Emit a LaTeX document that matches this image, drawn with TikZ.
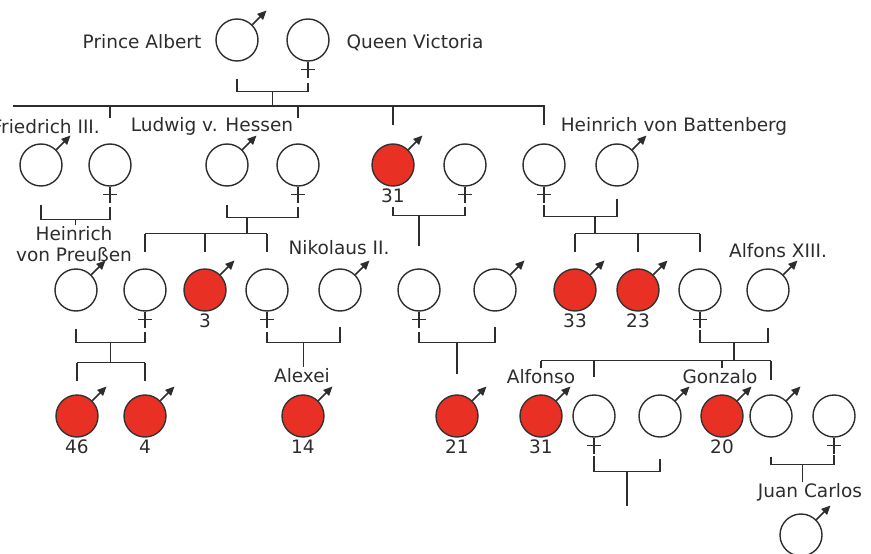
\documentclass[tikz,border=0pt]{standalone}
\usepackage{fontspec}
\setmainfont{DejaVu Sans}
\usetikzlibrary{calc,positioning,arrows.meta}
\definecolor{bloodred}{RGB}{232,48,36}
\definecolor{ink}{RGB}{45,45,45}
\begin{document}
\begin{tikzpicture}[x=1pt, y=-1pt]
        % Define styles
        \tikzstyle{person}=[circle, draw=ink, line width=1.4pt, minimum size=42pt, inner sep=0pt]
        \tikzstyle{bleeder}=[person, draw=black!80, fill=bloodred]
        \tikzstyle{royal}=[font=\fontsize{18.5}{21}\selectfont, text=ink, inner sep=1pt, anchor=base]
        \tikzstyle{years}=[font=\fontsize{18.5}{21}\selectfont, text=ink, inner sep=0pt]
        \tikzstyle{link}=[draw=ink, line width=1.5pt]
        \tikzstyle{spear}=[link, -{Triangle[length=9pt, width=8pt]}]

        \useasboundingbox (0,0) rectangle (871,554);

        % Prince Albert and Queen Victoria
        \node[person] (albert) at (237,40) {};
        \node[person] (victoria) at (308,40) {};
        \node[royal] (lblAlbert) at (142,48) {Prince Albert};
        \node[royal] (lblVictoria) at (415,48) {Queen Victoria};

        % Children and their partners
        \node[person] (friedrich) at (41,165) {};
        \node[person] (vicky) at (110,165) {};
        \node[person] (ludwig) at (227,165) {};
        \node[person] (alice) at (298,165) {};
        \node[bleeder] (leopold) at (393,165) {};
        \node[person] (helena) at (465,165) {};
        \node[person] (beatrice) at (544,165) {};
        \node[person] (heinrichB) at (617,165) {};
        \node[royal, anchor=base east] (lblFriedrich) at (101,133) {Friedrich III.};
        \node[royal] (lblLudwig) at (212,131) {Ludwig v. Hessen};
        \node[royal] (lblBattenberg) at (674,131) {Heinrich von Battenberg};
        \node[years, below=2pt of leopold] (ageLeopold) {31};

        % Grandchildren and their partners
        \node[person] (heinrichP) at (76,290) {};
        \node[person] (irene) at (145,290) {};
        \node[bleeder] (fritz) at (205,290) {};
        \node[person] (alix) at (267,290) {};
        \node[person] (nikolaus) at (340,290) {};
        \node[person] (aliceA) at (419,290) {};
        \node[person] (alexander) at (495,290) {};
        \node[bleeder] (leopoldB) at (575,290) {};
        \node[bleeder] (maurice) at (638,290) {};
        \node[person] (ena) at (700,290) {};
        \node[person] (alfons) at (768,290) {};
        \node[royal, anchor=center, align=center] (lblHeinrichP) at (74,244) {Heinrich\\von Preußen};
        \node[royal] (lblNikolaus) at (339,254) {Nikolaus II.};
        \node[royal] (lblAlfons) at (778,257) {Alfons XIII.};
        \node[years, below=2pt of fritz] (ageFritz) {3};
        \node[years, below=2pt of leopoldB] (ageLeopoldB) {33};
        \node[years, below=2pt of maurice] (ageMaurice) {23};

        % Great-grandchildren
        \node[bleeder] (waldemar) at (77,416) {};
        \node[bleeder] (heinrichJ) at (145,416) {};
        \node[bleeder] (alexei) at (303,416) {};
        \node[bleeder] (rupert) at (457,416) {};
        \node[bleeder] (alfonso) at (541,416) {};
        \node[person] (beatriz) at (594,416) {};
        \node[person] (torlonia) at (660,416) {};
        \node[bleeder] (gonzalo) at (722,416) {};
        \node[person] (juan) at (771,416) {};
        \node[person] (mercedes) at (834,416) {};
        \node[royal] (lblAlexei) at (302,382) {Alexei};
        \node[royal] (lblAlfonso) at (541,383) {Alfonso};
        \node[royal] (lblGonzalo) at (720,383) {Gonzalo};
        \node[years, below=2pt of waldemar] (ageWaldemar) {46};
        \node[years, below=2pt of heinrichJ] (ageHeinrichJ) {4};
        \node[years, below=2pt of alexei] (ageAlexei) {14};
        \node[years, below=2pt of rupert] (ageRupert) {21};
        \node[years, below=2pt of alfonso] (ageAlfonso) {31};
        \node[years, below=2pt of gonzalo] (ageGonzalo) {20};

        % Juan Carlos
        \node[person] (juancarlos) at (801,535) {};
        \node[royal] (lblJuanCarlos) at (810,497) {Juan Carlos};

        % Male and female signs
        \foreach \m in {albert, friedrich, ludwig, leopold, heinrichB, heinrichP, fritz, nikolaus, alexander, leopoldB, maurice, alfons, waldemar, heinrichJ, alexei, rupert, alfonso, torlonia, gonzalo, juan, juancarlos}
            \draw[spear] (\m.45) -- ++(45:20pt);
        \foreach \f in {victoria, vicky, alice, helena, beatrice, irene, alix, aliceA, ena, beatriz, mercedes}
            \draw[link] (\f.south) -- ++(0,16) ($(\f.south)+(-7,8)$) -- ++(14,0);

        % Lines of descent
        \draw[link] ($(albert.south)+(0,17)$) |- coordinate[pos=.75] (royals) ($(victoria.south)+(0,30)$) -- ($(victoria.south)+(0,21)$);
        \coordinate (royalsEnd) at (13,106);
        \draw[link] (royals) -- (royals |- royalsEnd);
        \draw[link] (royalsEnd) -- (beatrice |- royalsEnd) -- ++(0,19);
        \draw[link] (vicky |- royalsEnd) -- ++(0,12);
        \draw[link] (alice |- royalsEnd) -- ++(0,12);
        \draw[link] (leopold |- royalsEnd) -- ++(0,19);

        \draw[link] ($(friedrich.south)+(0,18)$) |- coordinate[pos=.75] (prussia) ($(vicky.south)+(0,33)$) -- ($(vicky.south)+(0,20)$);
        \draw[link] (prussia) -- (prussia |- lblHeinrichP.north);

        \draw[link] ($(ludwig.south)+(0,18)$) |- coordinate[pos=.64] (hessen) ($(alice.south)+(0,31)$) -- ($(alice.south)+(0,20)$);
        \draw[link] (hessen) -- ++(0,16) coordinate (hessenKids);
        \draw[link] (irene |- hessenKids) -- (alix |- hessenKids);
        \foreach \c in {irene, fritz, alix}
            \draw[link] (\c |- hessenKids) -- ++(0,18);

        \draw[link] ($(leopold.south)+(0,20)$) |- coordinate[pos=.75] (albany) ($(helena.south)+(0,29)$) -- ($(helena.south)+(0,20)$);
        \draw[link] (aliceA |- albany) -- ++(0,30);

        \draw[link] ($(beatrice.south)+(0,18)$) |- coordinate[pos=.85] (battenberg) ($(heinrichB.south)+(0,30)$) -- ($(heinrichB.south)+(0,12)$);
        \draw[link] (battenberg) -- ++(0,17) coordinate (battenbergKids);
        \draw[link] (leopoldB |- battenbergKids) -- (ena |- battenbergKids);
        \foreach \c in {leopoldB, maurice, ena}
            \draw[link] (\c |- battenbergKids) -- ++(0,18);

        \draw[link] ($(heinrichP.south)+(0,17)$) |- coordinate[pos=.75] (preussen) ($(irene.south)+(0,31)$) -- ($(irene.south)+(0,20)$);
        \draw[link] (preussen) -- ++(0,20) coordinate (preussenKids);
        \draw[link] (waldemar |- preussenKids) -- (heinrichJ |- preussenKids);
        \foreach \c in {waldemar, heinrichJ}
            \draw[link] (\c |- preussenKids) -- ++(0,18);

        \draw[link] ($(alix.south)+(0,20)$) |- coordinate[pos=.75] (romanov) ($(nikolaus.south)+(0,31)$) -- ($(nikolaus.south)+(0,15)$);
        \draw[link] (romanov) -- (romanov |- lblAlexei.north);

        \draw[link] ($(aliceA.south)+(0,20)$) |- coordinate[pos=.75] (athlone) ($(alexander.south)+(0,31)$) -- ($(alexander.south)+(0,15)$);
        \draw[link] (rupert |- athlone) -- ++(0,31);

        \draw[link] ($(ena.south)+(0,18)$) |- coordinate[pos=.75] (bourbon) ($(alfons.south)+(0,31)$) -- ($(alfons.south)+(0,16)$);
        \draw[link] (bourbon) -- ++(0,18) coordinate (bourbonKids);
        \draw[link] (alfonso |- bourbonKids) -- (juan |- bourbonKids);
        \draw[link] (alfonso |- bourbonKids) -- (alfonso |- lblAlfonso.north);
        \draw[link] (beatriz |- bourbonKids) -- ++(0,16);
        \draw[link] (gonzalo |- bourbonKids) -- (gonzalo |- lblGonzalo.north);
        \draw[link] (juan |- bourbonKids) -- ++(0,19);

        \draw[link] ($(beatriz.south)+(0,18)$) |- coordinate[pos=.75] (torloniaJ) ($(torlonia.south)+(0,34)$) -- ($(torlonia.south)+(0,21)$);
        \draw[link] (torloniaJ) -- ++(0,34) coordinate (torloniaKids);

        \draw[link] ($(juan.south)+(0,19)$) |- coordinate[pos=.75] (barcelona) ($(mercedes.south)+(0,27)$) -- ($(mercedes.south)+(0,17)$);
        \draw[link] (barcelona) -- (barcelona |- lblJuanCarlos.north);
\end{tikzpicture}
\end{document}
